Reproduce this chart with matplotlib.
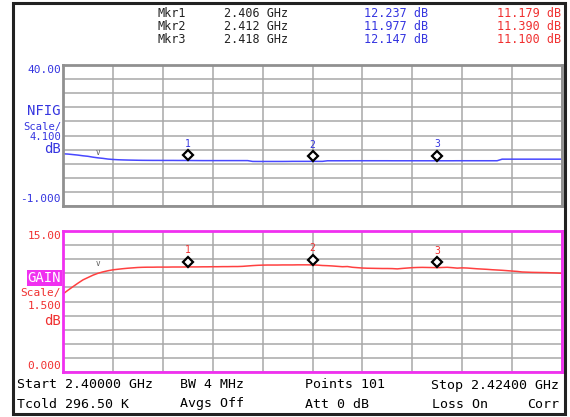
import numpy as np
import matplotlib
matplotlib.use("Agg")
from matplotlib import pyplot as plt
from matplotlib import transforms
from matplotlib.patches import Rectangle

# sweep: 101 points, 2.400 .. 2.424 GHz
freq_start = 2.400
freq_stop = 2.424
n_points = 101

# noise figure trace (dB)
nfig = [14.18, 14.10, 13.95, 13.80, 13.60, 13.45, 13.20, 13.00, 12.85, 12.65,
        12.53, 12.45, 12.40, 12.36, 12.33, 12.30, 12.28, 12.27, 12.26, 12.26,
        12.25, 12.25, 12.25, 12.24, 12.24, 12.24, 12.22, 12.21, 12.20, 12.20,
        12.20, 12.20, 12.20, 12.20, 12.20, 12.20, 12.20, 12.20, 11.96, 11.95,
        11.95, 11.95, 11.95, 11.95, 11.95, 11.96, 11.98, 11.98, 11.98, 11.98,
        11.98, 11.98, 11.98, 12.15, 12.15, 12.15, 12.15, 12.15, 12.16, 12.16,
        12.16, 12.16, 12.16, 12.16, 12.16, 12.16, 12.15, 12.15, 12.15, 12.15,
        12.15, 12.15, 12.15, 12.15, 12.15, 12.15, 12.15, 12.15, 12.15, 12.16,
        12.16, 12.16, 12.16, 12.16, 12.16, 12.16, 12.16, 12.16, 12.62, 12.62,
        12.62, 12.62, 12.62, 12.62, 12.62, 12.62, 12.62, 12.62, 12.62, 12.62,
        12.62]

# gain trace (dB)
gain = [8.30, 8.70, 9.08, 9.45, 9.80, 10.05, 10.30, 10.50, 10.65, 10.77,
        10.87, 10.93, 10.99, 11.04, 11.08, 11.12, 11.14, 11.15, 11.15, 11.16,
        11.16, 11.16, 11.17, 11.17, 11.17, 11.18, 11.18, 11.18, 11.19, 11.19,
        11.20, 11.20, 11.21, 11.21, 11.22, 11.22, 11.24, 11.28, 11.32, 11.35,
        11.37, 11.38, 11.38, 11.38, 11.39, 11.39, 11.39, 11.40, 11.40, 11.40,
        11.39, 11.37, 11.33, 11.31, 11.28, 11.24, 11.20, 11.22, 11.14, 11.10,
        11.06, 11.04, 11.03, 11.02, 11.01, 11.01, 11.00, 10.97, 11.02, 11.06,
        11.10, 11.12, 11.13, 11.12, 11.11, 11.10, 11.12, 11.14, 11.10, 11.05,
        11.08, 11.06, 11.02, 10.98, 10.95, 10.92, 10.88, 10.85, 10.82, 10.78,
        10.74, 10.70, 10.64, 10.62, 10.60, 10.59, 10.58, 10.57, 10.55, 10.53,
        10.50]

# markers
mkr_names = ["Mkr1", "Mkr2", "Mkr3"]
mkr_freq = [2.406, 2.412, 2.418]
mkr_nfig = [12.237, 11.977, 12.147]
mkr_gain = [11.179, 11.390, 11.100]

# small reference carets
caret_freq = 2.40168
caret_nfig = 14.7
caret_gain = 11.5

# scales
nfig_top, nfig_bottom = 40.0, -1.0
gain_top, gain_bottom = 15.0, 0.0

BLUE_TXT = "#3535e0"
BLUE_TRACE = "#4848ff"
RED_TXT = "#f03030"
RED_TRACE = "#ff4040"
MAGENTA = "#f030f0"
GRID = "#a8a8a8"
MONO = "DejaVu Sans Mono"

W, H = 570, 417
freqs = np.linspace(freq_start, freq_stop, n_points)


def px(x, y):
    return x / W, 1 - y / H


def ftext(x, y, s, **kw):
    kw.setdefault("family", MONO)
    kw.setdefault("va", "center")
    fig.text(*px(x, y), s, **kw)


def setup_panel(ax, top, bottom, frame_color):
    ax.set_xlim(freq_start, freq_stop)
    ax.set_ylim(bottom, top)
    ax.set_xticks(np.linspace(freq_start, freq_stop, 11))
    ax.set_yticks(np.linspace(bottom, top, 11))
    ax.grid(True, color=GRID, linewidth=1.1)
    ax.tick_params(length=0, labelleft=False, labelbottom=False)
    for sp in ax.spines.values():
        sp.set_color(frame_color)
        sp.set_linewidth(2)


fig = plt.figure(figsize=(W / 100, H / 100), dpi=100)

# outer instrument frame
fig.patches.append(Rectangle(px(13, 414), 552 / W, 411 / H, transform=fig.transFigure,
                             fill=False, edgecolor="#222222", linewidth=2.2))

# upper panel: noise figure
ax1 = fig.add_axes([63 / W, 1 - 206 / H, 499 / W, 141 / H])
setup_panel(ax1, nfig_top, nfig_bottom, "#909090")
ax1.plot(freqs, nfig, color=BLUE_TRACE, linewidth=1.1)

# lower panel: gain
ax2 = fig.add_axes([63 / W, 1 - 372 / H, 499 / W, 141 / H])
setup_panel(ax2, gain_top, gain_bottom, MAGENTA)
ax2.plot(freqs, gain, color=RED_TRACE, linewidth=1.1)

for ax, vals, col in [(ax1, mkr_nfig, BLUE_TXT), (ax2, mkr_gain, RED_TXT)]:
    # diamonds sit a few pixels above the trace, like on the instrument
    lifted = transforms.offset_copy(ax.transData, fig=fig, x=0, y=3.8, units="points")
    ax.plot(mkr_freq, vals, linestyle="none", marker="D", markersize=4.6,
            markerfacecolor="white", markeredgecolor="black", markeredgewidth=1.6,
            transform=lifted, zorder=5)
    for k, (f, v) in enumerate(zip(mkr_freq, vals)):
        ax.annotate(str(k + 1), (f, v), xytext=(0, 12), textcoords="offset points",
                    ha="center", va="center", fontsize=7, color=col, family=MONO)

ax1.annotate("v", (caret_freq, caret_nfig), ha="center", va="center",
             fontsize=5.5, color="#555555", family=MONO)
ax2.annotate("v", (caret_freq, caret_gain), ha="center", va="center",
             fontsize=5.5, color="#555555", family=MONO)

# marker readout, one block per column
rows = dict(va="top", fontsize=8.5, linespacing=0.98)
ftext(158, 7, "\n".join(mkr_names), color="#222222", **rows)
ftext(224, 7, "\n".join(f"{f:.3f} GHz" for f in mkr_freq), color="#222222", **rows)
ftext(364, 7, "\n".join(f"{v:.3f} dB" for v in mkr_nfig), color=BLUE_TXT, **rows)
ftext(561, 7, "\n".join(f"{v:.3f} dB" for v in mkr_gain), color=RED_TXT, ha="right", **rows)

# left annotations, upper
ftext(61, 70, f"{nfig_top:.2f}", fontsize=8, color=BLUE_TXT, ha="right")
ftext(61, 111, "NFIG", fontsize=10, color=BLUE_TXT, ha="right")
ftext(61, 132, "Scale/\n4.100", fontsize=7.6, linespacing=1.1, color=BLUE_TXT, ha="right")
ftext(61, 149, "dB", fontsize=10, color=BLUE_TXT, ha="right")
ftext(61, 199, f"{nfig_bottom:.3f}", fontsize=8, color=BLUE_TXT, ha="right")

# left annotations, lower
ftext(61, 236, f"{gain_top:.2f}", fontsize=8, color=RED_TXT, ha="right")
ftext(61, 278, "GAIN", fontsize=10, color="white", ha="right",
      bbox=dict(boxstyle="square,pad=0.05", facecolor=MAGENTA, edgecolor="none"))
ftext(61, 299.5, "Scale/\n1.500", fontsize=8, linespacing=1.45, color=RED_TXT, ha="right")
ftext(61, 321, "dB", fontsize=10, color=RED_TXT, ha="right")
ftext(61, 366, f"{gain_bottom:.3f}", fontsize=8, color=RED_TXT, ha="right")

# bottom status lines
ftext(17, 385, f"Start {freq_start:.5f} GHz", fontsize=9.5)
ftext(17, 404, "Tcold 296.50 K", fontsize=9.5)
ftext(180, 385, "BW 4 MHz", fontsize=9.5)
ftext(180, 404, "Avgs Off", fontsize=9.5)
ftext(305, 385, f"Points {n_points}", fontsize=9.5)
ftext(305, 404, "Att 0 dB", fontsize=9.5)
ftext(559, 385, f"Stop {freq_stop:.5f} GHz", fontsize=9.5, ha="right")
ftext(432, 404, "Loss On", fontsize=9.5)
ftext(559, 404, "Corr", fontsize=9.5, ha="right")

fig.savefig("out.png", dpi=100)
